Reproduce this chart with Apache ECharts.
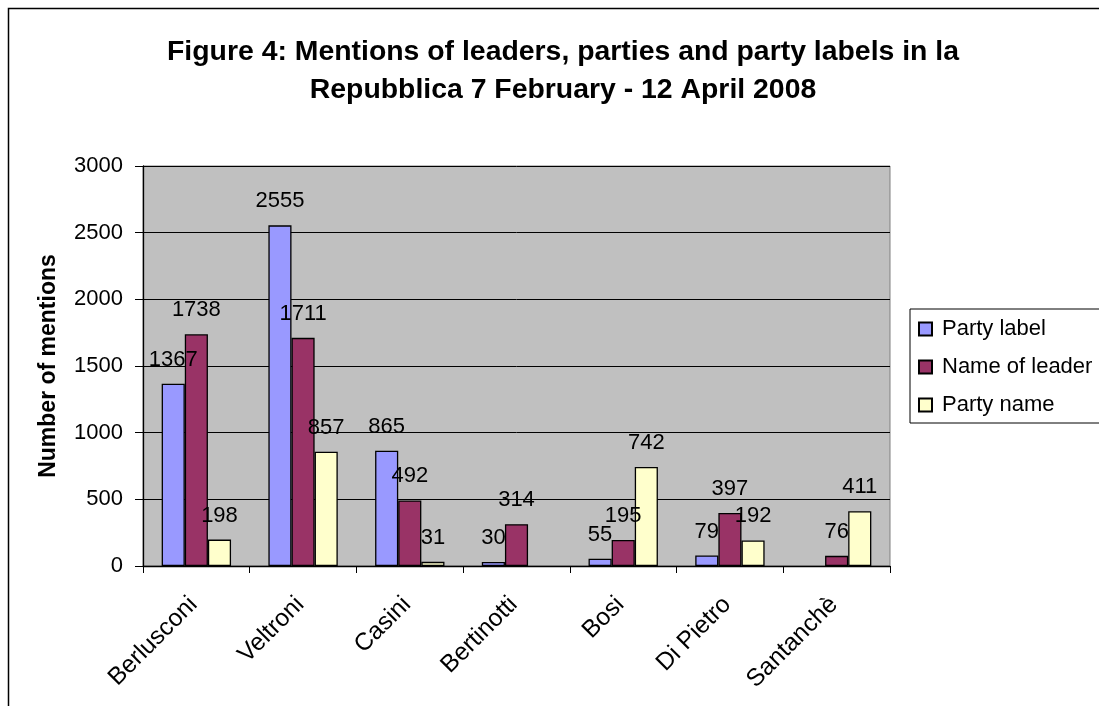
<!DOCTYPE html>
<html>
<head>
<meta charset="utf-8">
<script src="https://cdn.jsdelivr.net/npm/echarts@6/dist/echarts.min.js"></script>
<style>html,body{margin:0;padding:0;background:#fff;}#c{width:1099px;height:706px;}</style>
</head>
<body>
<div id="c"></div>
<script>
var categories = ['Berlusconi','Veltroni','Casini','Bertinotti','Bosi','Di Pietro','Santanchè'];
var partyLabel = [1367, 2555, 865, 30, 55, 79, null];
var nameOfLeader = [1738, 1711, 492, 314, 195, 397, 76];
var partyName = [198, 857, 31, null, 742, 192, 411];
var yTicks = [0, 500, 1000, 1500, 2000, 2500, 3000];

var FONT = '"Liberation Sans", Arial, sans-serif';
var chart = echarts.init(document.getElementById('c'));
function mk(name, data, color) {
  return {
    name: name, type: 'bar', data: data,
    barGap: '0%', barCategoryGap: '35%',
    itemStyle: { color: color, borderColor: '#000', borderWidth: 1.3 },
    label: { show: true, position: 'top', distance: 13, color: '#000', fontSize: 22, fontFamily: FONT },
    emphasis: { disabled: true }
  };
}
chart.setOption({
  animation: false,
  textStyle: { fontFamily: FONT },
  graphic: [{ type: 'rect', shape: { x: 8.5, y: 8.5, width: 1110, height: 720 },
              style: { fill: 'none', stroke: '#000', lineWidth: 1.5 } }],
  title: {
    text: 'Figure 4: Mentions of leaders, parties and party labels in la\nRepubblica 7 February - 12 April 2008',
    left: 558, top: 28, textAlign: 'center',
    textStyle: { fontSize: 28.4, fontWeight: 'bold', color: '#000', fontFamily: FONT, lineHeight: 38 }
  },
  legend: {
    orient: 'vertical', left: 910, top: 309,
    padding: [9, 40, 7, 8],
    icon: 'rect',
    itemWidth: 13, itemHeight: 13, itemGap: 16,
    borderColor: '#000', borderWidth: 1, backgroundColor: '#fff',
    textStyle: { fontSize: 22, color: '#000', fontFamily: FONT, padding: [0,0,0,5] },
    data: ['Party label', 'Name of leader', 'Party name']
  },
  grid: { left: 143, right: 209, top: 166, bottom: 140, show: true,
          backgroundColor: '#C0C0C0', borderColor: '#808080', borderWidth: 1 },
  xAxis: {
    type: 'category', data: categories,
    axisLine: { lineStyle: { color: '#000', width: 1.3 } },
    axisTick: { show: true, length: 7, lineStyle: { color: '#000' } },
    axisLabel: { rotate: 45, fontSize: 24.5, color: '#000', margin: 32, padding: [0, 4, 0, 0], fontFamily: FONT }
  },
  yAxis: {
    type: 'value', min: yTicks[0], max: yTicks[yTicks.length-1], interval: 500,
    name: 'Number of mentions', nameLocation: 'middle', nameGap: 83,
    nameTextStyle: { fontSize: 23, fontWeight: 'bold', color: '#000', fontFamily: FONT },
    axisLine: { show: true, lineStyle: { color: '#000', width: 1.3 } },
    axisTick: { show: true, length: 8, lineStyle: { color: '#000' } },
    axisLabel: { fontSize: 22, color: '#000', margin: 20, fontFamily: FONT,
                 formatter: function (v) { return String(v); } },
    splitLine: { lineStyle: { color: '#000', width: 1 } }
  },
  series: [
    mk('Party label', partyLabel, '#9999FF'),
    mk('Name of leader', nameOfLeader, '#993366'),
    mk('Party name', partyName, '#FFFFCC')
  ]
});
</script>
</body>
</html>
